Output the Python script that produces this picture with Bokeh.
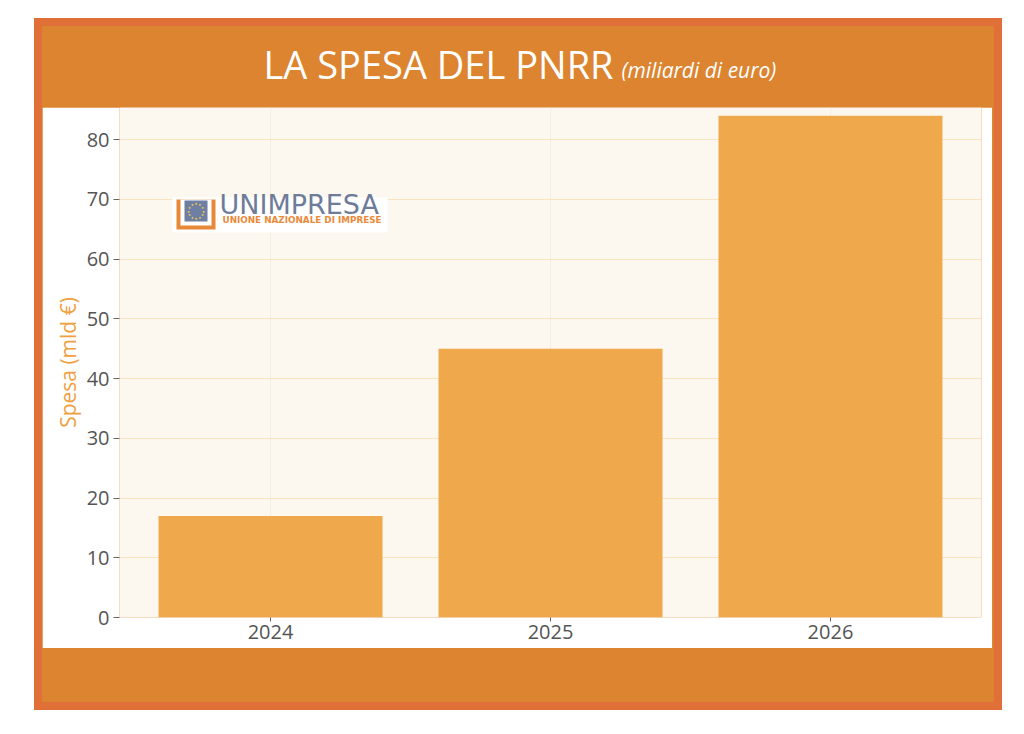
import math
from bokeh.plotting import figure
from bokeh.layouts import column
from bokeh.models import (FactorRange, Range1d, BoxAnnotation, Label,
                          FixedTicker, ColumnDataSource, Spacer)
from bokeh.embed import file_html
from bokeh.resources import INLINE

# ---------------- data ----------------
years = ["2024", "2025", "2026"]
spesa = [17, 45, 84]
y_ticks = [0, 10, 20, 30, 40, 50, 60, 70, 80]

TITLE = "LA SPESA DEL PNRR"
SUBTITLE = "(miliardi di euro)"
Y_LABEL = "Spesa (mld €)"
LOGO_NAME = "UNIMPRESA"
LOGO_TAG = "UNIONE NAZIONALE DI IMPRESE"

ORANGE = "#DC8430"
RED = "#E07038"
CREAM = "#FDF8EF"

# main figure geometry (page px)
PX0, PY0 = 43, 107
W, H = 950, 541
FL, FR, FT, FB = 77, 939, 0, 510     # frame edges inside main figure
BAND_W = 952

# ---------------- title band ----------------
BH = 81
tf = figure(width=W, height=BH, x_range=Range1d(0, FR - FL), y_range=Range1d(0, BH),
            x_axis_type=None, y_axis_type=None, toolbar_location=None,
            output_backend="svg", min_border_left=FL, min_border_right=W - FR,
            min_border_top=0, min_border_bottom=0, outline_line_color=None,
            background_fill_color=ORANGE, border_fill_color=ORANGE, title=None)


def tlab(X, Ybase, text, size, k, **kw):
    # X, Ybase: page position of text start / baseline
    tf.add_layout(Label(x=X - (PX0 + FL), y=PY0 - (Ybase - k * size),
                        text=text, text_font_size=f"{size}px",
                        text_baseline="alphabetic", text_align="left", **kw))


tlab(264, 76, TITLE, 38, 0.333, text_font="Open Sans", text_color="white")
tlab(622, 76, SUBTITLE, 21, 0.333, text_font="Open Sans",
     text_font_style="italic", text_color="white")

# ---------------- main chart ----------------
p = figure(width=W, height=H, title=None,
           x_range=FactorRange(factors=years, range_padding=0.0263),
           y_range=Range1d(0, 85.36),
           output_backend="svg", toolbar_location=None,
           min_border_left=FL, min_border_right=W - FR,
           min_border_top=FT, min_border_bottom=H - FB,
           background_fill_color=CREAM, border_fill_color="white",
           outline_line_color=None)

src = ColumnDataSource(dict(year=years, spesa=spesa))
p.vbar(x="year", top="spesa", width=0.8, source=src,
       fill_color="#EFA84B", line_color=None)

p.ygrid.grid_line_color = "#FAE4BE"
p.xgrid.grid_line_color = "#F7EDDC"

p.yaxis.ticker = FixedTicker(ticks=y_ticks)
for ax in (p.xaxis, p.yaxis):
    ax.axis_line_color = None
    ax.minor_tick_line_color = None
    ax.major_tick_line_color = "#666666"
    ax.major_tick_in = 0
    ax.major_label_text_font = "Open Sans"
    ax.major_label_text_font_size = "20px"
    ax.major_label_text_color = "#555555"

p.yaxis.major_tick_out = 6
p.yaxis.major_label_standoff = 4
p.xaxis.major_tick_out = 4
p.xaxis.major_label_standoff = 3

p.yaxis.axis_label = Y_LABEL
p.yaxis.axis_label_text_font = "Open Sans"
p.yaxis.axis_label_text_font_style = "normal"
p.yaxis.axis_label_text_font_size = "21px"
p.yaxis.axis_label_text_color = "#F0A040"
p.yaxis.axis_label_standoff = 2


def cbox(x0, y0, x1, y1, color):
    p.add_layout(BoxAnnotation(left=x0 - PX0, right=x1 - PX0,
                               top=y0 - PY0, bottom=y1 - PY0,
                               left_units="canvas", right_units="canvas",
                               top_units="canvas", bottom_units="canvas",
                               fill_color=color, fill_alpha=1.0,
                               line_color=None, level="annotation"))


def lab(X, Y, text, **kw):
    p.add_layout(Label(x=X - PX0 - FL, y=FB - (Y - PY0), x_units="screen",
                       y_units="screen", text=text, **kw))


# ---------------- logo ----------------
cbox(173, 197, 388, 232, "#FFFFFF")
cbox(177, 199, 216, 229, "#E8893A")
cbox(181, 199, 212, 225, "#FFFFFF")
cbox(185, 200, 208, 221, "#6E7FA3")
for k in range(12):
    a = 2 * math.pi * k / 12
    lab(196.5 + 7.5 * math.cos(a), 210.5 + 7.5 * math.sin(a), "•",
        text_font="DejaVu Sans", text_font_size="6px", text_color="#F4D03F",
        text_align="center", text_baseline="middle")
lab(220, 215 - 0.39 * 27, LOGO_NAME, text_font="DejaVu Sans",
    text_font_size="27px", text_color="#6F7C99",
    text_baseline="alphabetic", text_align="left")
lab(223, 222.5 - 0.39 * 8.8, LOGO_TAG, text_font="DejaVu Sans",
    text_font_size="8.8px", text_font_style="bold", text_color="#E8893A",
    text_baseline="alphabetic", text_align="left")

# ---------------- bottom band ----------------
bottom = Spacer(width=BAND_W, height=54)

layout = column(tf, p, bottom, spacing=0, margin=(18, 0, 0, 34),
                styles={"background-color": ORANGE,
                        "border": "8px solid " + RED})

open("out.html", "w").write(file_html(layout, INLINE))
